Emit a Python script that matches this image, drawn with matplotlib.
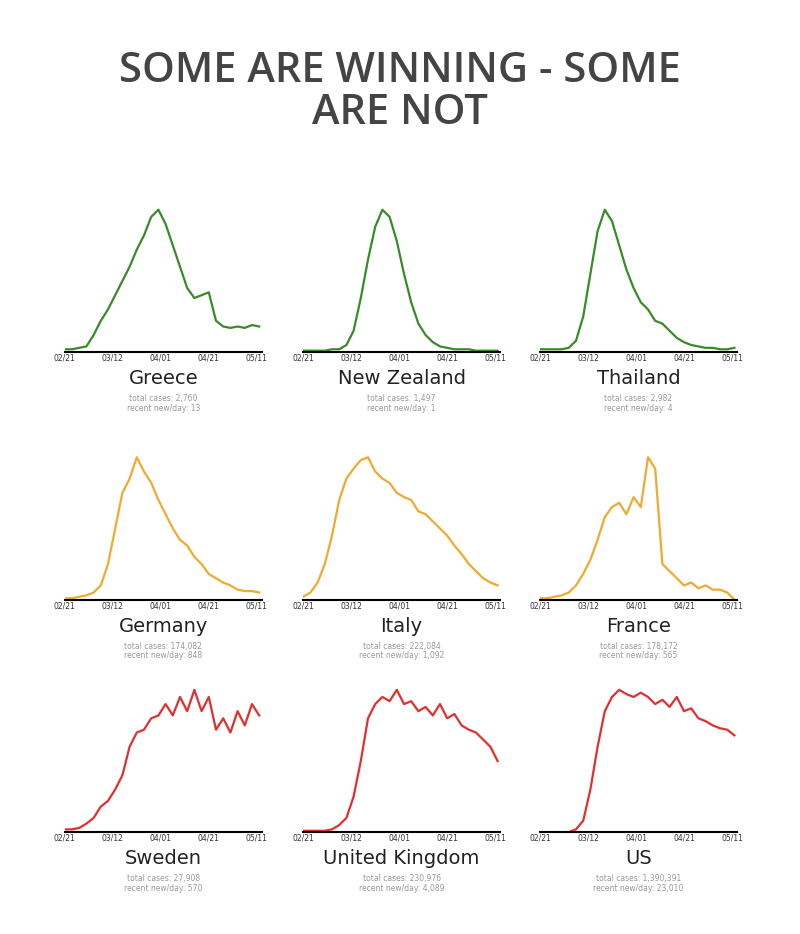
import matplotlib.pyplot as plt

days = list(range(0, 82, 3))
tick_days = [0, 20, 40, 60, 80]
tick_labels = ["02/21", "03/12", "04/01", "04/21", "05/11"]

countries = ["Greece", "New Zealand", "Thailand",
             "Germany", "Italy", "France",
             "Sweden", "United Kingdom", "US"]
totals = ["2,760", "1,497", "2,982", "174,082", "222,084", "178,172",
          "27,908", "230,976", "1,390,391"]
recent = ["13", "1", "4", "848", "1,092", "565", "570", "4,089", "23,010"]

greece = [0.02, 0.02, 0.03, 0.04, 0.12, 0.22, 0.3, 0.4, 0.5, 0.6, 0.72, 0.82, 0.95, 1.0,
          0.9, 0.75, 0.6, 0.45, 0.38, 0.4, 0.42, 0.22, 0.18, 0.17, 0.18, 0.17, 0.19, 0.18]
new_zealand = [0.01, 0.01, 0.01, 0.01, 0.02, 0.02, 0.05, 0.15, 0.38, 0.65, 0.88, 1.0, 0.95, 0.78,
               0.55, 0.35, 0.2, 0.12, 0.07, 0.04, 0.03, 0.02, 0.02, 0.02, 0.01, 0.01, 0.01, 0.01]
thailand = [0.02, 0.02, 0.02, 0.02, 0.03, 0.08, 0.25, 0.55, 0.85, 1.0, 0.92, 0.75, 0.58, 0.45,
            0.35, 0.3, 0.22, 0.2, 0.15, 0.1, 0.07, 0.05, 0.04, 0.03, 0.03, 0.02, 0.02, 0.03]
germany = [0.01, 0.01, 0.02, 0.03, 0.05, 0.1, 0.25, 0.5, 0.75, 0.85, 1.0, 0.9, 0.82, 0.7,
           0.6, 0.5, 0.42, 0.38, 0.3, 0.25, 0.18, 0.15, 0.12, 0.1, 0.07, 0.06, 0.06, 0.05]
italy = [0.02, 0.05, 0.12, 0.25, 0.45, 0.7, 0.85, 0.92, 0.98, 1.0, 0.9, 0.85, 0.82, 0.75,
         0.72, 0.7, 0.62, 0.6, 0.55, 0.5, 0.45, 0.38, 0.32, 0.25, 0.2, 0.15, 0.12, 0.1]
france = [0.01, 0.01, 0.02, 0.03, 0.05, 0.1, 0.18, 0.28, 0.42, 0.58, 0.65, 0.68, 0.6, 0.72,
          0.65, 1.0, 0.92, 0.25, 0.2, 0.15, 0.1, 0.12, 0.08, 0.1, 0.07, 0.07, 0.05, 0.0]
sweden = [0.02, 0.02, 0.03, 0.06, 0.1, 0.18, 0.22, 0.3, 0.4, 0.6, 0.7, 0.72, 0.8, 0.82,
          0.9, 0.82, 0.95, 0.85, 1.0, 0.85, 0.95, 0.72, 0.8, 0.7, 0.85, 0.75, 0.9, 0.82]
uk = [0.01, 0.01, 0.01, 0.01, 0.02, 0.05, 0.1, 0.25, 0.5, 0.8, 0.9, 0.95, 0.92, 1.0,
      0.9, 0.92, 0.85, 0.88, 0.82, 0.9, 0.8, 0.83, 0.75, 0.72, 0.7, 0.65, 0.6, 0.5]
us = [0.0, 0.0, 0.0, 0.0, 0.0, 0.02, 0.08, 0.3, 0.6, 0.85, 0.95, 1.0, 0.97, 0.95,
      0.98, 0.95, 0.9, 0.93, 0.88, 0.95, 0.85, 0.87, 0.8, 0.78, 0.75, 0.73, 0.72, 0.68]

series = [greece, new_zealand, thailand, germany, italy, france, sweden, uk, us]
row_colors = ["#3a8a2a", "#f0aa30", "#e03030"]

fig = plt.figure(figsize=(8, 9.34), dpi=100)
fig.text(0.5, 0.902, "SOME ARE WINNING - SOME\nARE NOT", ha="center", va="center",
         fontsize=30, color="#444444", family="Open Sans", weight="semibold",
         linespacing=1.0)

lefts = [0.081, 0.379, 0.675]
bottoms = [0.623, 0.358, 0.109]
for i, name in enumerate(countries):
    r, c = divmod(i, 3)
    ax = fig.add_axes([lefts[c], bottoms[r], 0.246, 0.157])
    ax.plot(days, series[i], color=row_colors[r], lw=1.6)
    ax.set_xlim(0, 82)
    ax.set_ylim(0, 1.03)
    for s in ["top", "right", "left"]:
        ax.spines[s].set_visible(False)
    ax.spines["bottom"].set_linewidth(1.5)
    ax.set_yticks([])
    ax.set_xticks(tick_days)
    ax.set_xticklabels(tick_labels, fontsize=5.5, color="#333333")
    ax.tick_params(axis="x", length=0, pad=1)
    ax.text(0.5, -0.18, name, transform=ax.transAxes, ha="center", va="center",
            fontsize=14, color="#222222")
    ax.text(0.5, -0.35, "total cases: " + totals[i] + "\nrecent new/day: " + recent[i],
            transform=ax.transAxes, ha="center", va="center", fontsize=5.5,
            color="#999999", linespacing=1.1)

fig.savefig("out.png", dpi=100, facecolor="white")
